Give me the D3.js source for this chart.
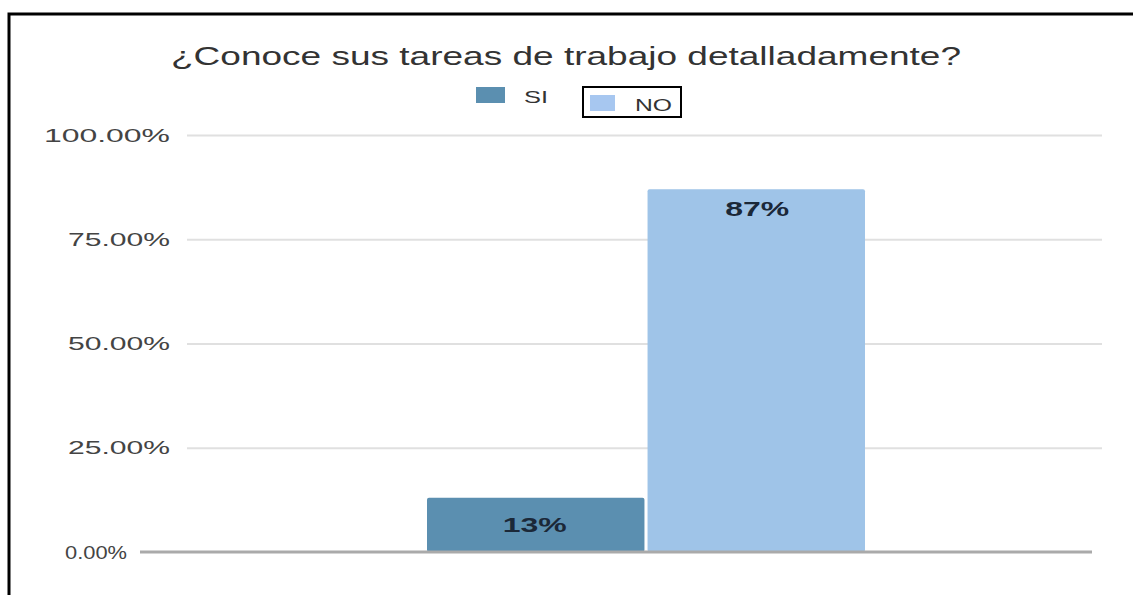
<!DOCTYPE html>
<html>
<head>
<meta charset="utf-8">
<script src="https://cdn.jsdelivr.net/npm/d3@7"></script>
<style>
  html, body { margin: 0; padding: 0; background: #fff; }
  svg { display: block; font-family: "Liberation Sans", Arial, sans-serif; }
</style>
</head>
<body>
<svg id="chart" width="1133" height="595"></svg>
<script>
// Survey answers
const title = "¿Conoce sus tareas de trabajo detalladamente?";
const series = ["SI", "NO"];
const values = [0.13, 0.87];
const valueLabels = ["13%", "87%"];
const tickValues = [0, 0.25, 0.5, 0.75, 1];
const colors = ["#5b8fb0", "#9fc4e8"];

const svg = d3.select("#chart");

// outer frame
svg.append("rect")
  .attr("x", 9).attr("y", 14)
  .attr("width", 1140).attr("height", 600)
  .attr("fill", "#fff")
  .attr("stroke", "#000").attr("stroke-width", 3);

const y = d3.scaleLinear().domain([0, 1]).range([552, 135]);
const x = d3.scaleBand().domain(series).range([427, 865]).paddingInner(0.014);

// gridlines + tick labels
const fmt = d3.format(".2%");
const yAxis = d3.axisLeft(y).tickValues(tickValues).tickFormat(fmt)
  .tickSize(-915).tickPadding(17);
const gy = svg.append("g").attr("transform", "translate(187,0)").call(yAxis);
gy.select(".domain").remove();
gy.selectAll(".tick line").attr("stroke", "#e0e0e0").attr("stroke-width", 2);
gy.selectAll(".tick text")
  .attr("fill", "#444").attr("font-size", 19)
  .attr("font-family", "Liberation Sans, Arial, sans-serif")
  .attr("textLength", d => d === 0 ? 62 : (d === 1 ? 126 : 102))
  .attr("lengthAdjust", "spacingAndGlyphs")
  .attr("x", d => d === 0 ? -60 : -17);
gy.selectAll(".tick").filter(d => d === 0).select("line").remove();

// bars
svg.selectAll("rect.bar").data(values).join("rect")
  .attr("class", "bar")
  .attr("x", (d, i) => x(series[i]))
  .attr("width", x.bandwidth())
  .attr("y", d => y(d))
  .attr("height", d => y(0) - y(d))
  .attr("rx", 2)
  .attr("fill", (d, i) => colors[i]);

// baseline
svg.append("line")
  .attr("x1", 140).attr("x2", 1092)
  .attr("y1", y(0)).attr("y2", y(0))
  .attr("stroke", "#aaaaaa").attr("stroke-width", 3);

// value labels
svg.selectAll("text.val").data(values).join("text")
  .attr("class", "val")
  .attr("x", (d, i) => x(series[i]) + x.bandwidth() / 2 + (i === 0 ? -1 : 1))
  .attr("y", (d, i) => y(d) + (i === 0 ? 34 : 27))
  .attr("text-anchor", "middle")
  .attr("font-weight", "bold").attr("font-size", 20)
  .attr("fill", "#1b2838")
  .attr("textLength", 64).attr("lengthAdjust", "spacingAndGlyphs")
  .text((d, i) => valueLabels[i]);

// title
svg.append("text")
  .attr("x", 566).attr("y", 65)
  .attr("text-anchor", "middle")
  .attr("font-size", 25).attr("fill", "#333")
  .attr("textLength", 790).attr("lengthAdjust", "spacingAndGlyphs")
  .text(title);

// legend
const leg = svg.append("g");
leg.append("rect").attr("x", 476).attr("y", 87).attr("width", 29).attr("height", 16).attr("fill", colors[0]);
leg.append("text").attr("x", 524).attr("y", 103).attr("font-size", 17).attr("fill", "#333")
  .attr("textLength", 24).attr("lengthAdjust", "spacingAndGlyphs").text(series[0]);
leg.append("rect").attr("x", 583).attr("y", 87).attr("width", 98).attr("height", 30)
  .attr("fill", "#fff").attr("stroke", "#000").attr("stroke-width", 2);
leg.append("rect").attr("x", 590).attr("y", 95).attr("width", 25).attr("height", 16).attr("fill", "#a7c7f0");
leg.append("text").attr("x", 635).attr("y", 111).attr("font-size", 17).attr("fill", "#333")
  .attr("textLength", 37).attr("lengthAdjust", "spacingAndGlyphs").text(series[1]);
</script>
</body>
</html>
